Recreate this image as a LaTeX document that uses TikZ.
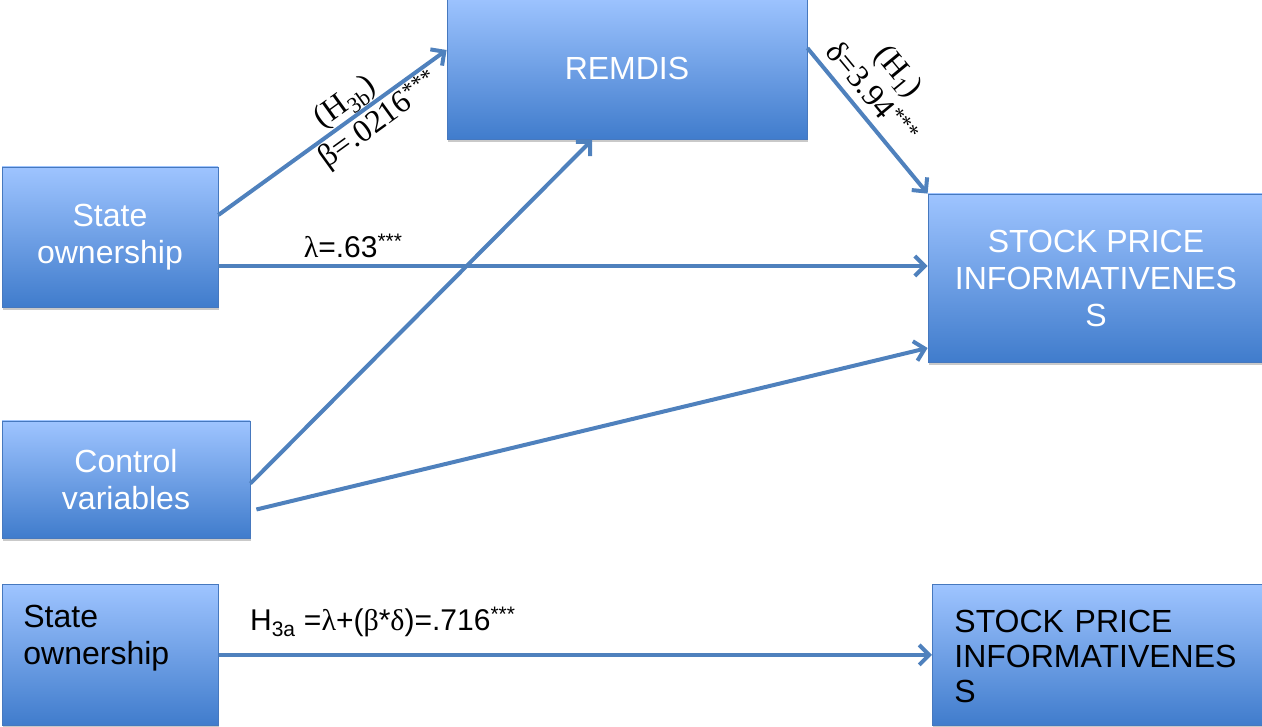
\documentclass[tikz,border=0pt]{standalone}
\usepackage{fontspec}
\setmainfont{Liberation Sans}
\newfontfamily\greekfont{Liberation Serif}
\usetikzlibrary{arrows.meta,shadows}

\definecolor{linkblue}{RGB}{79,129,189}
\definecolor{boxline}{RGB}{70,120,190}
\definecolor{boxtop}{RGB}{158,196,255}
\definecolor{boxbot}{RGB}{64,124,204}
\newcommand{\gk}[1]{{\greekfont #1}}

\begin{document}
\begin{tikzpicture}[x=1pt,y=-1pt]

\tikzset{box/.style = {draw=boxline, line width=0.8pt, top color=boxtop, bottom color=boxbot,
  text=white, align=center, inner sep=0pt, font=\fontsize{32}{37}\selectfont,
  drop shadow={shadow xshift=1pt, shadow yshift=-3pt, opacity=0.3, fill=black!70}}}
\tikzset{plainbox/.style = {box, text=black, align=left}}
\tikzset{link/.style = {draw=linkblue, line width=4pt, -{Straight Barb[length=10pt,width=20pt]}}}
\tikzset{coef/.style = {font=\greekfont\fontsize{32}{36}\selectfont, inner sep=2pt}}
\tikzset{sumlabel/.style = {font=\fontsize{30}{32}\selectfont}}

\useasboundingbox (0,0) rectangle (1262,727);

\node[box, minimum width=360pt, minimum height=143pt] (remdis) at (627,68) {REMDIS};
\node[box, minimum width=216pt, minimum height=140pt] (state) at (110,237) {State\\ownership};
\node[box, minimum width=248pt, minimum height=117pt] (control) at (126,479.5) {Control\\variables};
\node[box, minimum width=336pt, minimum height=168pt] (spi) at (1096,278) {STOCK PRICE\\INFORMATIVENES\\S};

\node[plainbox, inner xsep=21pt, text width=174pt, text height=43pt, text depth=98pt,
  anchor=north west] (state2) at (2,584) {State\\ownership};
\node[plainbox, inner xsep=22pt, text width=300pt, text height=48pt, text depth=93pt,
  anchor=north west, font=\fontsize{32}{35}\selectfont] (spi2) at (932,584) {STOCK PRICE\\INFORMATIVENES\\S};

%edges
\draw[link] ([yshift=22pt]state.east) -- ([yshift=18pt]remdis.west)
  node[coef, sloped, above, pos=0.6, inner sep=0pt] {(H\textsubscript{3b})}
  node[coef, sloped, below, pos=0.66, inner sep=1pt] {β=.0216\textsuperscript{***}};
\draw[link] ([yshift=-29pt]state.east) -- ([yshift=12pt]spi.west)
  node[sumlabel, above=3pt, pos=0.19] {\gk{λ}=.63\textsuperscript{***}};
\draw[link] ([yshift=-4pt]control.east) -- ([xshift=-35pt]remdis.south);
\draw[link] ([xshift=6pt,yshift=-30pt]control.east) -- ([yshift=-70pt]spi.west);
\draw[link] ([yshift=20pt]remdis.east) -- (spi.north west)
  node[coef, sloped, above=6pt, pos=0.4, align=center] {(H\textsubscript{1})\\δ=3.94\textsuperscript{***}};
\draw[link] (state2.east) -- (spi2.west)
  node[sumlabel, above=13pt, pos=0.23] {H\textsubscript{3a} =\gk{λ}+(\gk{β}*\gk{δ})=.716\textsuperscript{***}};

\end{tikzpicture}
\end{document}
